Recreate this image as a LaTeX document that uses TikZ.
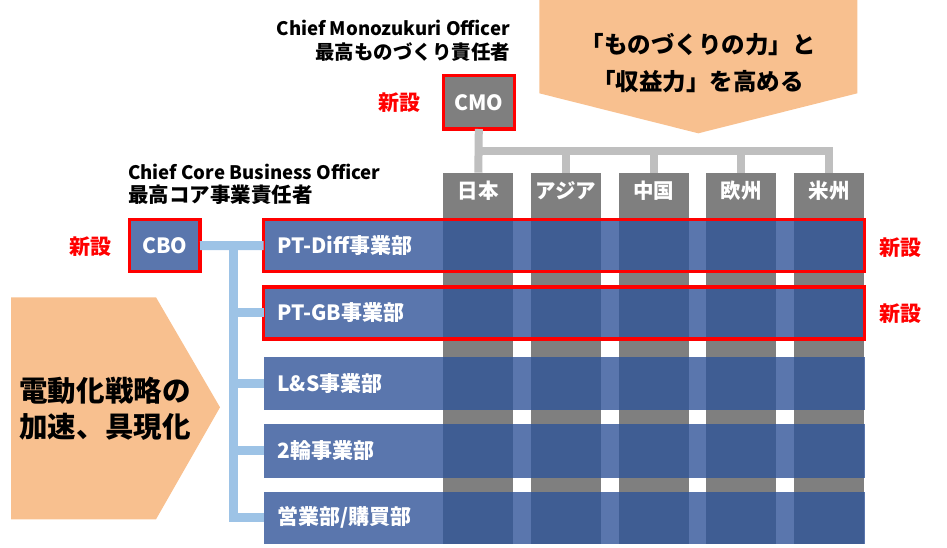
\documentclass[tikz,border=0pt]{standalone}
\usepackage{fontspec}
\setmainfont{Noto Sans CJK JP}
\usetikzlibrary{calc}
\definecolor{orng}{HTML}{F8C08F}
\definecolor{lblue}{HTML}{5A76AD}
\definecolor{dblue}{HTML}{3F5D93}
\definecolor{gry}{HTML}{7F7F7F}
\definecolor{lgry}{HTML}{BFBFBF}
\definecolor{lineblue}{HTML}{9DC3E6}
\definecolor{redc}{HTML}{FF0000}
\begin{document}
\begin{tikzpicture}[x=1pt,y=-1pt,
  every node/.style={inner sep=0pt, outer sep=0pt, font=\bfseries},
  colbox/.style={rectangle, fill=gry, anchor=north west, minimum width=70pt, minimum height=370.8pt},
  rowbox/.style={rectangle, fill=lblue, anchor=north west, minimum width=601pt},
  redframe/.style={draw=redc, line width=3.4pt},
  grayline/.style={draw=lgry, line width=8pt, line join=miter},
  blueline/.style={draw=lineblue, line width=9pt, line join=miter},
  rowlbl/.style={anchor=west, text=white, font=\bfseries\fontsize{21}{22}\selectfont},
  collbl/.style={text=white, font=\bfseries\fontsize{20.5}{22}\selectfont},
  newlbl/.style={text=redc, font=\bfseries\fontsize{21}{22}\selectfont},
  hdren/.style={font=\bfseries\fontsize{18.6}{20}\selectfont},
  hdrjp/.style={font=\bfseries\fontsize{20.5}{22}\selectfont},
  bigtxt/.style={font=\bfseries\fontsize{23.5}{26}\selectfont},
  lefttxt/.style={font=\bfseries\fontsize{28.5}{30}\selectfont}
]
\useasboundingbox (0,0) rectangle (947,547);
% orange arrows
\fill[orng] (539.3,-1) -- (857.3,-1) -- (857.3,93.3) -- (698.3,133.3) -- (539.3,93.3) -- cycle;
\node[bigtxt] (tgoal1) at (698,45) {「ものづくりの力」と};
\node[bigtxt] (tgoal2) at (698,82) {「収益力」を高める};
\fill[orng] (11,297.3) -- (156,297.3) -- (220,407.3) -- (156,519.3) -- (11,519.3) -- cycle;
\node[lefttxt] (lgoal1) at (105,391) {電動化戦略の};
\node[lefttxt] (lgoal2) at (105,427) {加速、具現化};
% columns
\foreach \i/\x in {1/443.3,2/531.0,3/618.7,4/706.3,5/794.0}{
  \node[colbox] (col\i) at (\x,172.7) {};
}
% CMO
\node[rectangle, fill=gry, redframe, minimum width=70.8pt, minimum height=53.3pt, text=white,
  font=\bfseries\fontsize{21}{22}\selectfont] (cmo) at (478.8,102.35) {CMO};
\coordinate (bus) at (0,150.5);
\draw[grayline] (cmo.south) -- (col1.north);
\draw[grayline] (col1.north |- bus) -- (col5.north |- bus) -- (col5.north);
\foreach \i in {2,3,4}{ \draw[grayline] (col\i.north |- bus) -- (col\i.north); }
% rows
\node[rowbox, minimum height=51.7pt] (r1) at (263.5,219.7) {};
\node[rowbox, minimum height=51.9pt] (r2) at (263.5,286.9) {};
\node[rowbox, minimum height=52.7pt] (r3) at (263.5,356.8) {};
\node[rowbox, minimum height=53.2pt] (r4) at (263.5,424.3) {};
\node[rowbox, minimum height=51.9pt] (r5) at (263.5,491.8) {};
\foreach \r in {r1,r2,r3,r4,r5}{
  \foreach \c in {col1,col2,col3,col4,col5}{
    \fill[dblue] (\c.west |- \r.north) rectangle (\c.east |- \r.south);
  }
}
\draw[redframe] (r1.north west) rectangle (r1.south east);
\draw[redframe] (r2.north west) rectangle (r2.south east);
% CBO
\node[rectangle, fill=lblue, redframe, minimum width=70.5pt, minimum height=52.2pt, text=white,
  font=\bfseries\fontsize{21}{22}\selectfont] (cbo) at (164.75,245.6) {CBO};
\coordinate (trunk) at (233.3,0);
\draw[blueline] (cbo.east) -- (r1.west);
\draw[blueline] (trunk |- r1.west) -- (trunk |- r5.west) -- (r5.west);
\foreach \r in {r2,r3,r4}{ \draw[blueline] (trunk |- \r.west) -- (\r.west); }
% labels
\node[rowlbl] (l1) at ($(r1.west)+(13.8,0)$) {PT-Diff事業部};
\node[rowlbl] (l2) at ($(r2.west)+(13.8,0)$) {PT-GB事業部};
\node[rowlbl] (l3) at ($(r3.west)+(13.8,0)$) {L\&S事業部};
\node[rowlbl] (l4) at ($(r4.west)+(13.8,0)$) {2輪事業部};
\node[rowlbl] (l5) at ($(r5.west)+(13.8,0)$) {営業部/購買部};
\foreach \i/\t in {1/日本,2/アジア,3/中国,4/欧州,5/米州}{
  \node[collbl] (cl\i) at ($(col\i.north)+(0,18.3)$) {\t};
}
\node[newlbl] (n1) at (399.8,103) {新設};
\node[newlbl] (n2) at (90,246.7) {新設};
\node[newlbl] (n3) at (900.5,247.3) {新設};
\node[newlbl] (n4) at (900.5,314) {新設};
\node[hdren, anchor=east] (h1) at (510,28) {Chief Monozukuri Officer};
\node[hdrjp, anchor=east, font=\bfseries\fontsize{19.5}{22}\selectfont] (h2) at (510,52) {最高ものづくり責任者};
\node[hdren, anchor=west] (h3) at (128.3,171.7) {Chief Core Business Officer};
\node[hdrjp, anchor=west] (h4) at (128.3,195) {最高コア事業責任者};
\end{tikzpicture}
\end{document}
